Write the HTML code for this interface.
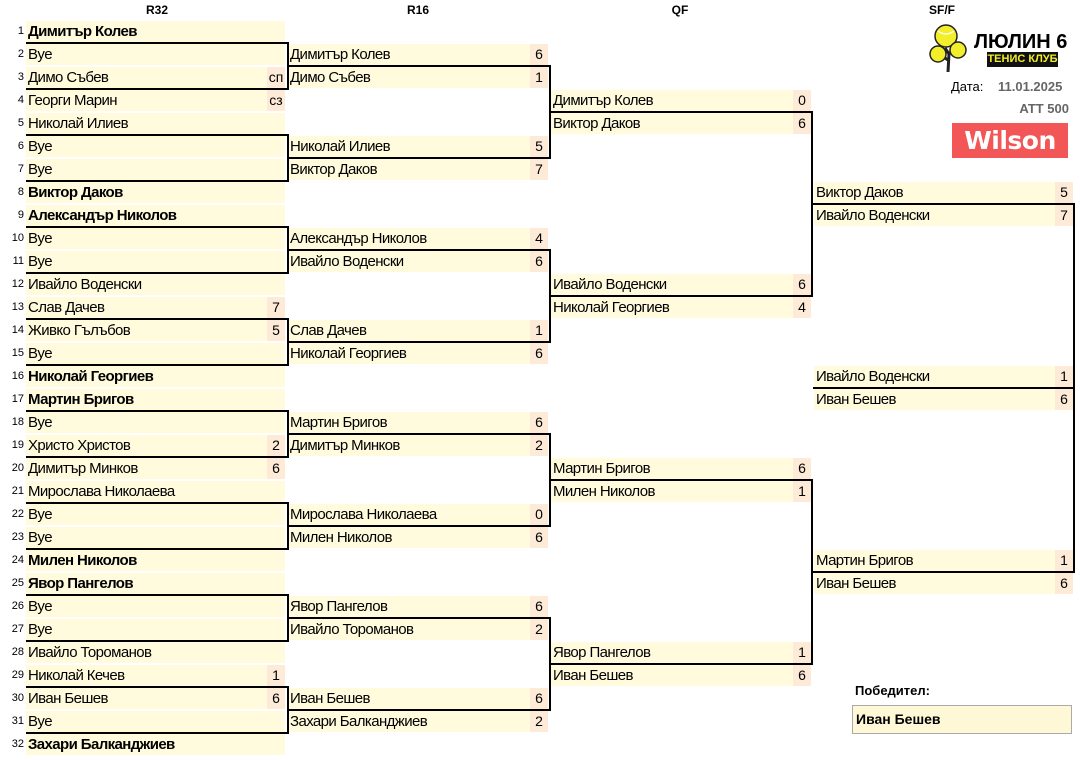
<!DOCTYPE html>
<html><head><meta charset="utf-8">
<style>
*{margin:0;padding:0;box-sizing:border-box}
body{width:1080px;height:760px;background:#fff;position:relative;overflow:hidden;font-family:"Liberation Sans",sans-serif;color:#000}
.h{position:absolute;top:3px;font-size:12px;font-weight:bold;width:60px;text-align:center}
.c{position:absolute;height:21px;line-height:21px;background:#fffbdc;font-size:15px;padding-left:2px;white-space:nowrap;letter-spacing:-0.6px}
.c b{font-weight:bold}
.s{position:absolute;right:0;top:0;width:18px;height:21px;background:#fdebd7;text-align:center;font-size:14px;letter-spacing:0}
.n{position:absolute;left:0;width:24px;text-align:right;font-size:11px;height:21px;line-height:21px}
.r32{left:26px;width:259px}
.r16{left:288px;width:260px}
.qf{left:551px;width:260px}
.sf{left:814px;width:259px}
.br{position:absolute;border:2px solid #000;border-left:none;z-index:2}
</style></head><body>
<div class="h" style="left:127px">R32</div>
<div class="h" style="left:388px">R16</div>
<div class="h" style="left:650px">QF</div>
<div class="h" style="left:912px">SF/F</div>

<div class="n" style="top:21px">1</div><div class="c r32" style="top:21px"><b>Димитър Колев</b></div>
<div class="n" style="top:44px">2</div><div class="c r32" style="top:44px">Bye</div>
<div class="n" style="top:67px">3</div><div class="c r32" style="top:67px">Димо Събев<span class="s">сп</span></div>
<div class="n" style="top:90px">4</div><div class="c r32" style="top:90px">Георги Марин<span class="s">сз</span></div>
<div class="n" style="top:113px">5</div><div class="c r32" style="top:113px">Николай Илиев</div>
<div class="n" style="top:136px">6</div><div class="c r32" style="top:136px">Bye</div>
<div class="n" style="top:159px">7</div><div class="c r32" style="top:159px">Bye</div>
<div class="n" style="top:182px">8</div><div class="c r32" style="top:182px"><b>Виктор Даков</b></div>
<div class="n" style="top:205px">9</div><div class="c r32" style="top:205px"><b>Александър Николов</b></div>
<div class="n" style="top:228px">10</div><div class="c r32" style="top:228px">Bye</div>
<div class="n" style="top:251px">11</div><div class="c r32" style="top:251px">Bye</div>
<div class="n" style="top:274px">12</div><div class="c r32" style="top:274px">Ивайло Воденски</div>
<div class="n" style="top:297px">13</div><div class="c r32" style="top:297px">Слав Дачев<span class="s">7</span></div>
<div class="n" style="top:320px">14</div><div class="c r32" style="top:320px">Живко Гълъбов<span class="s">5</span></div>
<div class="n" style="top:343px">15</div><div class="c r32" style="top:343px">Bye</div>
<div class="n" style="top:366px">16</div><div class="c r32" style="top:366px"><b>Николай Георгиев</b></div>
<div class="n" style="top:389px">17</div><div class="c r32" style="top:389px"><b>Мартин Бригов</b></div>
<div class="n" style="top:412px">18</div><div class="c r32" style="top:412px">Bye</div>
<div class="n" style="top:435px">19</div><div class="c r32" style="top:435px">Христо Христов<span class="s">2</span></div>
<div class="n" style="top:458px">20</div><div class="c r32" style="top:458px">Димитър Минков<span class="s">6</span></div>
<div class="n" style="top:481px">21</div><div class="c r32" style="top:481px">Мирослава Николаева</div>
<div class="n" style="top:504px">22</div><div class="c r32" style="top:504px">Bye</div>
<div class="n" style="top:527px">23</div><div class="c r32" style="top:527px">Bye</div>
<div class="n" style="top:550px">24</div><div class="c r32" style="top:550px"><b>Милен Николов</b></div>
<div class="n" style="top:573px">25</div><div class="c r32" style="top:573px"><b>Явор Пангелов</b></div>
<div class="n" style="top:596px">26</div><div class="c r32" style="top:596px">Bye</div>
<div class="n" style="top:619px">27</div><div class="c r32" style="top:619px">Bye</div>
<div class="n" style="top:642px">28</div><div class="c r32" style="top:642px">Ивайло Тороманов</div>
<div class="n" style="top:665px">29</div><div class="c r32" style="top:665px">Николай Кечев<span class="s">1</span></div>
<div class="n" style="top:688px">30</div><div class="c r32" style="top:688px">Иван Бешев<span class="s">6</span></div>
<div class="n" style="top:711px">31</div><div class="c r32" style="top:711px">Bye</div>
<div class="n" style="top:734px">32</div><div class="c r32" style="top:734px"><b>Захари Балканджиев</b></div>

<div class="c r16" style="top:44px">Димитър Колев<span class="s">6</span></div>
<div class="c r16" style="top:67px">Димо Събев<span class="s">1</span></div>
<div class="c r16" style="top:136px">Николай Илиев<span class="s">5</span></div>
<div class="c r16" style="top:159px">Виктор Даков<span class="s">7</span></div>
<div class="c r16" style="top:228px">Александър Николов<span class="s">4</span></div>
<div class="c r16" style="top:251px">Ивайло Воденски<span class="s">6</span></div>
<div class="c r16" style="top:320px">Слав Дачев<span class="s">1</span></div>
<div class="c r16" style="top:343px">Николай Георгиев<span class="s">6</span></div>
<div class="c r16" style="top:412px">Мартин Бригов<span class="s">6</span></div>
<div class="c r16" style="top:435px">Димитър Минков<span class="s">2</span></div>
<div class="c r16" style="top:504px">Мирослава Николаева<span class="s">0</span></div>
<div class="c r16" style="top:527px">Милен Николов<span class="s">6</span></div>
<div class="c r16" style="top:596px">Явор Пангелов<span class="s">6</span></div>
<div class="c r16" style="top:619px">Ивайло Тороманов<span class="s">2</span></div>
<div class="c r16" style="top:688px">Иван Бешев<span class="s">6</span></div>
<div class="c r16" style="top:711px">Захари Балканджиев<span class="s">2</span></div>

<div class="c qf" style="top:90px">Димитър Колев<span class="s">0</span></div>
<div class="c qf" style="top:113px">Виктор Даков<span class="s">6</span></div>
<div class="c qf" style="top:274px">Ивайло Воденски<span class="s">6</span></div>
<div class="c qf" style="top:297px">Николай Георгиев<span class="s">4</span></div>
<div class="c qf" style="top:458px">Мартин Бригов<span class="s">6</span></div>
<div class="c qf" style="top:481px">Милен Николов<span class="s">1</span></div>
<div class="c qf" style="top:642px">Явор Пангелов<span class="s">1</span></div>
<div class="c qf" style="top:665px">Иван Бешев<span class="s">6</span></div>

<div class="c sf" style="top:182px">Виктор Даков<span class="s">5</span></div>
<div class="c sf" style="top:205px">Ивайло Воденски<span class="s">7</span></div>
<div class="c sf" style="top:366px">Ивайло Воденски<span class="s">1</span></div>
<div class="c sf" style="top:389px">Иван Бешев<span class="s">6</span></div>
<div class="c sf" style="top:550px">Мартин Бригов<span class="s">1</span></div>
<div class="c sf" style="top:573px">Иван Бешев<span class="s">6</span></div>

<div class="br" style="left:26px;top:42px;width:263px;height:48px"></div>
<div class="br" style="left:26px;top:134px;width:263px;height:48px"></div>
<div class="br" style="left:26px;top:226px;width:263px;height:48px"></div>
<div class="br" style="left:26px;top:318px;width:263px;height:48px"></div>
<div class="br" style="left:26px;top:410px;width:263px;height:48px"></div>
<div class="br" style="left:26px;top:502px;width:263px;height:48px"></div>
<div class="br" style="left:26px;top:594px;width:263px;height:48px"></div>
<div class="br" style="left:26px;top:686px;width:263px;height:48px"></div>
<div class="br" style="left:288px;top:65px;width:263px;height:94px"></div>
<div class="br" style="left:288px;top:249px;width:263px;height:94px"></div>
<div class="br" style="left:288px;top:433px;width:263px;height:94px"></div>
<div class="br" style="left:288px;top:617px;width:263px;height:94px"></div>
<div class="br" style="left:551px;top:111px;width:262px;height:186px"></div>
<div class="br" style="left:551px;top:479px;width:262px;height:186px"></div>
<div class="br" style="left:813px;top:203px;width:262px;height:186px"></div>
<div class="br" style="left:813px;top:387px;width:262px;height:186px"></div>

<svg style="position:absolute;left:928px;top:24px" width="45" height="48" viewBox="0 0 45 48">
<path d="M20 48 L21 30 L17 24 M21 30 L28 22 M20 36 L11 30" stroke="#222" stroke-width="3" fill="none"/>
<circle cx="18" cy="12" r="11" fill="#f3ee2a" stroke="#222" stroke-width="1.5"/>
<circle cx="30" cy="26" r="8" fill="#f3ee2a" stroke="#222" stroke-width="1.5"/>
<circle cx="10" cy="30" r="8" fill="#f3ee2a" stroke="#222" stroke-width="1.5"/>
<path d="M10 7 Q18 13 26 7" stroke="#fff" stroke-width="1.2" fill="none"/>
</svg>
<div style="position:absolute;left:974px;top:31px;font-size:20px;font-weight:bold">ЛЮЛИН 6</div>
<div style="position:absolute;left:987px;top:52px;width:71px;height:15px;background:#111;color:#f3ee2a;font-size:11px;font-weight:bold;text-align:center;line-height:15px">ТЕНИС КЛУБ</div>
<div style="position:absolute;left:951px;top:79px;font-size:13px">Дата:</div>
<div style="position:absolute;left:998px;top:79px;font-size:13px;font-weight:bold;color:#666">11.01.2025</div>
<div style="position:absolute;right:11px;top:101px;font-size:13px;font-weight:bold;color:#666">ATT 500</div>
<div style="position:absolute;left:952px;top:123px;width:116px;height:35px;background:#f25656;color:#fff;font-family:'DejaVu Sans','Liberation Sans',sans-serif;font-weight:bold;font-size:25px;text-align:center;line-height:35px;letter-spacing:-0.5px">Wilson</div>

<div style="position:absolute;left:855px;top:683px;font-size:13px;font-weight:bold">Победител:</div>
<div style="position:absolute;left:852px;top:705px;width:220px;height:29px;border:1px solid #aaa;background:#fff8d6;font-size:14px;font-weight:bold;padding-left:3px;line-height:26px">Иван Бешев</div>
</body></html>
